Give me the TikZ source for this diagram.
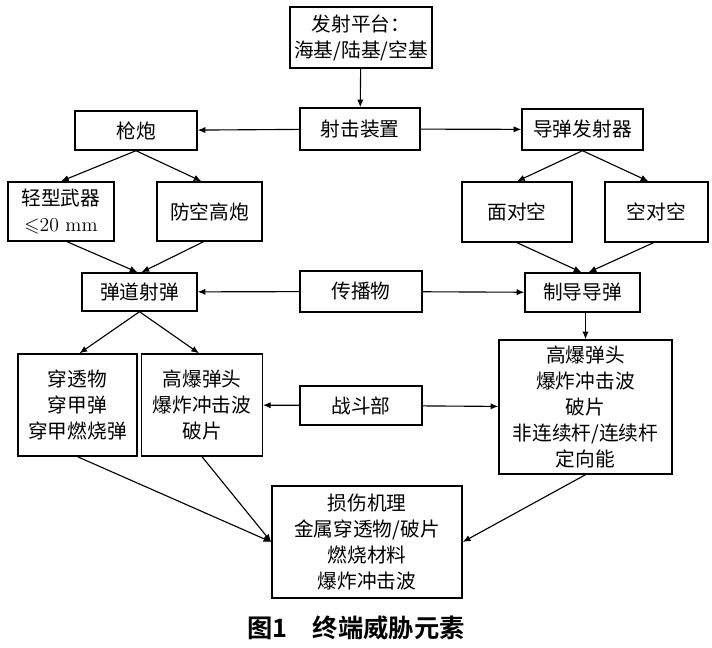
\documentclass[tikz,border=0pt]{standalone}
\usepackage{amssymb}
\usepackage{fontspec}
\usepackage{tikz}
\usetikzlibrary{arrows.meta, calc}
\newfontfamily\cjk{Noto Sans CJK SC}
\newfontfamily\cjkbold{Noto Sans CJK SC Bold}

\begin{document}
\begin{tikzpicture}[x=0.025cm, y=-0.025cm,
  box/.style={draw, line width=1pt, align=center, inner sep=0pt,
    font=\cjk\fontsize{14}{18.5}\selectfont},
  arr/.style={-{Latex[length=5.5pt, width=4.5pt]}, line width=0.8pt}]
\useasboundingbox (0,0) rectangle (712,648);
% top row
\node[box, minimum width=3.55cm, minimum height=1.525cm] (plat) at (361,37.5) {发射平台：\\海基/陆基/空基};
\node[box, minimum width=3.0cm, minimum height=1.05cm] (shoot) at (360,129) {射击装置};
\node[box, minimum width=3.05cm, minimum height=0.975cm] (gun) at (136,130.5) {枪炮};
\node[box, minimum width=3.025cm, minimum height=1.025cm] (launcher) at (582.5,129.5) {导弹发射器};
% weapons
\node[box, minimum width=2.65cm, minimum height=1.475cm] (light) at (61,211.5) {轻型武器\\{\rmfamily$\leqslant$20 mm}};
\node[box, minimum width=2.625cm, minimum height=1.475cm] (aa) at (209.5,211.5) {防空高炮};
\node[box, minimum width=2.75cm, minimum height=1.5cm] (s2a) at (517,212) {面对空};
\node[box, minimum width=2.575cm, minimum height=1.5cm] (a2a) at (656.5,212) {空对空};
% projectiles
\node[box, minimum width=2.875cm, minimum height=0.95cm] (ballistic) at (139.5,292) {弹道射弹};
\node[box, minimum width=3.05cm, minimum height=1.025cm] (prop) at (361,291.5) {传播物};
\node[box, minimum width=2.875cm, minimum height=0.975cm] (guided) at (582.5,292.5) {制导导弹};
% warheads
\node[box, minimum width=2.975cm, minimum height=2.55cm] (pen) at (77.5,405) {穿透物\\穿甲弹\\穿甲燃烧弹};
\node[box, minimum width=3.0125cm, minimum height=2.55cm] (heL) at (202,405) {高爆弹头\\爆炸冲击波\\破片};
\node[box, minimum width=3.05cm, minimum height=0.975cm] (warhead) at (361,405.5) {战斗部};
\node[box, minimum width=4.325cm, minimum height=3.35cm] (heR) at (585.5,407) {高爆弹头\\爆炸冲击波\\破片\\非连续杆/连续杆\\定向能};
% damage
\node[box, minimum width=4.75cm, minimum height=2.8cm] (damage) at (367,542) {损伤机理\\金属穿透物/破片\\燃烧材料\\爆炸冲击波};
\node[font=\cjkbold\fontsize{18}{20}\selectfont] (caption) at (356,628) {图1\quad 终端威胁元素};

\draw[arr] (plat) -- (shoot);
\draw[arr] (shoot) -- (gun);
\draw[arr] (shoot) -- (launcher);
\draw[arr] (gun.south) -- (light.north);
\draw[arr] (gun.south) -- ($(aa.north)+(-8,0)$);
\draw[arr] (launcher.south) -- (s2a.north);
\draw[arr] (launcher.south) -- ($(a2a.north)+(-8,0)$);
\draw[arr] ($(light.south)+(6,0)$) -- ($(ballistic.north)+(-2,0)$);
\draw[arr] ($(aa.south)+(-6,0)$) -- ($(ballistic.north)+(2,0)$);
\draw[arr] (s2a.south) -- ($(guided.north)+(-1,0)$);
\draw[arr] ($(a2a.south)+(-3,0)$) -- ($(guided.north)+(6,0)$);
\draw[arr] (prop) -- (ballistic);
\draw[arr] (prop) -- (guided);
\draw[arr] (ballistic.south) -- ($(pen.north)+(2,0)$);
\draw[arr] (ballistic.south) -- ($(heL.north)+(-3,0)$);
\draw[arr] ($(guided.south)+(3,0)$) -- ($(heR.north)+(0,0)$);
\draw[arr] (warhead) -- (heL);
\draw[arr] (warhead) -- (heR);
\draw[arr] (pen.south) -- (damage.west);
\draw[arr] (heL.south) -- (damage.west);
\draw[arr] (heR.south) -- (damage.east);
\end{tikzpicture}
\end{document}
